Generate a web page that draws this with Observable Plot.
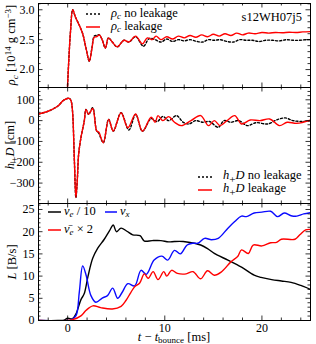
<!DOCTYPE html>
<html><head><meta charset="utf-8">
<script src="https://cdn.jsdelivr.net/npm/d3@7"></script>
<script src="https://cdn.jsdelivr.net/npm/@observablehq/plot@0.6"></script>
<style>
body{margin:0;background:#fff;}
#wrap{position:relative;width:316px;height:344px;font-family:"Liberation Serif",serif;color:#000;overflow:hidden;}
#wrap svg.plt{display:block;}
.lbl{position:absolute;white-space:nowrap;font-size:12.5px;line-height:1;}
.ctr{transform:translate(0,-50%);}
.rot{transform:translate(-50%,-50%) rotate(-90deg);}
.sub{font-size:72%;vertical-align:-0.3em;}
.subp{font-size:90%;vertical-align:-0.3em;}
.sup{font-size:72%;vertical-align:0.45em;}
.sw{position:absolute;overflow:visible;}
</style>
</head><body><div id="wrap"></div>
<script>
// ---- data: central density (10^14 g/cm^3)
const tRhoLeak = [-0.1,0.1,0.3,0.52,0.8,1.2,1.55,1.9,2.23,2.5,2.74,3.0,3.26,3.55,3.88,4.2,4.6,5.1,5.8,6.3,7.0,7.7,8.2,8.7,9.1,9.6,10.2,10.8,11.4,12.0,12.6,13.2,13.8,14.4,15.0,15.6,16.2,16.8,17.4,18.0,18.6,19.3,20.0,20.7,21.4,22.1,22.8,23.5,24.2,25.0];
const rhoLeak  = [1.4,2.1,2.65,3.0,2.88,2.74,2.6,2.35,2.14,2.35,2.54,2.55,2.58,2.5,2.36,2.53,2.46,2.38,2.49,2.46,2.56,2.43,2.53,2.5,2.56,2.5,2.55,2.51,2.56,2.53,2.57,2.54,2.58,2.55,2.59,2.56,2.6,2.57,2.61,2.58,2.61,2.6,2.62,2.61,2.62,2.615,2.625,2.62,2.63,2.635];
const tRhoNo = [-0.1,0.1,0.3,0.52,0.8,1.2,1.55,1.9,2.23,2.5,2.74,3.0,3.26,3.55,3.88,4.2,4.6,5.1,5.8,6.3,7.0,7.8,8.4,9.0,9.6,10.2,10.8,11.4,12.0,12.6,13.3,13.9,14.5,15.1,15.7,16.4,17.1,17.7,18.4,19.0,19.7,20.4,21.1,21.8,22.5,23.2,23.9,24.5,25.0];
const rhoNo  = [1.4,2.1,2.65,3.0,2.88,2.74,2.6,2.35,2.14,2.36,2.56,2.57,2.58,2.5,2.36,2.53,2.46,2.38,2.49,2.46,2.55,2.39,2.52,2.5,2.46,2.51,2.47,2.5,2.48,2.5,2.47,2.46,2.5,2.49,2.5,2.47,2.46,2.5,2.49,2.49,2.47,2.49,2.49,2.48,2.5,2.49,2.49,2.5,2.5];

// ---- data: h+D (cm)
const tHLeak = [-3,-2,-1,-0.4,0.17,0.35,0.5,0.7,0.85,1.0,1.13,1.37,1.71,1.89,2.16,2.58,2.99,3.2,3.67,4.22,4.7,5.5,6.2,7.0,7.7,8.6,9.0,9.3,9.8,10.4,11.0,11.7,12.7,13.7,14.5,15.1,15.7,16.4,17.2,17.9,18.8,19.8,20.8,21.8,22.6,23.6,25.0];
const hLeak  = [32,45,70,98,107,95,46,-200,-370,-280,-162,-82,-2,54,30,58,-50,-55,-106,6,-50,38,-34,32,-51,16,-8,24,0,19,-8,-24,0,24,-24,0,-24,0,24,-16,3,0,8,-24,-8,-13,3];
const tHNo = [-3,-2,-1,-0.4,0.17,0.35,0.5,0.7,0.85,1.0,1.13,1.37,1.71,1.89,2.16,2.58,2.99,3.2,3.67,4.22,4.7,5.5,6.3,7.0,7.7,8.6,9.2,9.8,10.4,11.2,11.9,12.5,13.2,13.9,14.6,15.5,16.1,16.8,17.6,18.5,19.4,20.6,21.6,22.4,23.2,24.2,25.0];
const hNo  = [32,45,70,98,107,95,46,-200,-370,-280,-162,-82,-2,54,30,62,-50,-60,-106,6,-50,38,-45,30,-51,10,-5,20,0,24,-8,-16,0,-8,-4,-32,0,-8,0,-24,-10,-16,5,13,0,-4,0];

// ---- data: luminosities (B/s)
const tNuE = [-3,-1,-0.35,0,0.5,0.86,1.37,1.7,2.1,2.58,3.1,3.77,4.3,4.7,5.02,5.5,6.1,6.7,7.45,7.9,8.7,9.6,10.4,11.0,11.9,13.05,13.7,14.4,15.1,16.5,17.9,19.2,19.9,21.0,22.0,23.0,24.0,25.0];
const lNuE = [0,0,0.1,0.5,0.4,1.5,4.7,6.0,10.0,14.0,16.3,18.3,20.2,21.5,20.0,20.8,20.1,19.3,19.1,17.9,18.0,18.0,17.7,17.8,17.8,17.4,17.0,16.2,15.1,13.6,12.0,10.2,9.7,9.2,8.9,8.6,7.9,7.0];
const tNuX = [-3,0,0.3,0.86,1.2,1.55,1.9,2.4,2.9,3.6,4.1,4.64,5.15,5.6,6.2,6.9,7.55,8.1,8.9,9.7,10.3,11.0,11.6,12.3,12.9,13.4,14.1,14.8,15.5,16.5,17.2,17.9,18.4,19.2,20.0,20.9,21.6,22.3,23.0,23.6,24.3,25.0];
const lNuX = [0,0,0.1,1.1,6.4,12.3,10.2,5.6,4.1,5.1,5.6,7.3,5.0,6.3,8.3,7.8,11.3,10.4,13.6,14.5,13.6,15.8,15.0,17.0,17.4,17.4,18.5,18.2,18.5,20.8,22.3,23.5,23.4,24.2,24.4,24.6,23.4,24.2,23.6,23.5,24.0,24.3];
const tNuA = [-3,0.5,1.4,1.9,2.6,3.4,4.6,5.5,6.0,6.5,6.9,7.4,7.9,8.3,8.8,9.3,9.9,10.2,10.7,11.3,12.2,12.9,13.7,14.4,15.1,15.8,16.8,17.5,17.9,18.6,19.1,20.0,20.9,21.5,22.0,23.4,23.9,24.5,25.0];
const lNuA = [0,0.2,1.1,2.3,3.3,2.9,2.6,3.2,4.5,6.3,7.6,8.4,10.5,9.5,11.0,9.2,11.0,10.0,11.3,10.6,10.5,11.0,9.4,11.2,10.2,10.9,13.2,14.4,15.9,15.1,17.0,16.8,17.5,17.6,18.3,18.3,19.3,20.4,20.5];

// ---- axes
const xDomain = [-3, 25];
const xMajor = [0, 10, 20];
const xMinor = [-2, 2, 4, 6, 8, 12, 14, 16, 18, 22, 24];
const rhoDomain = [1.7, 3.105];
const rhoMajor = [2.0, 2.5, 3.0];
const rhoMinor = [1.8, 1.9, 2.1, 2.2, 2.3, 2.4, 2.6, 2.7, 2.8, 2.9, 3.1];
const hDomain = [-398, 159];
const hMajor = [-300, -200, -100, 0, 100];
const hMinor = d3.range(-380, 160, 20).filter(v => v % 100 !== 0);
const lDomain = [0, 26.35];
const lMajor = [0, 5, 10, 15, 20, 25];
const lMinor = d3.range(1, 27, 1).filter(v => v % 5 !== 0);

const zipTV = (t, v) => t.map((d, i) => ({t: d, v: v[i]}));

const W = 316, ML = 38, MR = 6, IW = W - ML - MR;
const FONT = '"Liberation Serif", serif';

function panel(o) {
  const IH = o.height - o.marginTop - o.marginBottom;
  const marks = [];
  for (const s of o.series) {
    marks.push(Plot.line(s.data, {x: "t", y: "v", stroke: s.color, strokeWidth: s.w || 1.4,
      strokeDasharray: s.dash, curve: "catmull-rom", clip: true}));
  }
  const tx = (vals, len) => [
    Plot.tickX(vals, {x: d => d, insetTop: IH - len, stroke: "black", strokeWidth: 0.8}),
    Plot.tickX(vals, {x: d => d, insetBottom: IH - len, stroke: "black", strokeWidth: 0.8})
  ];
  const ty = (vals, len) => [
    Plot.tickY(vals, {y: d => d, insetRight: IW - len, stroke: "black", strokeWidth: 0.8}),
    Plot.tickY(vals, {y: d => d, insetLeft: IW - len, stroke: "black", strokeWidth: 0.8})
  ];
  marks.push(...tx(xMajor, 4.5), ...tx(xMinor, 2.5), ...ty(o.yMajor, 4.5), ...ty(o.yMinor, 2.5));
  marks.push(Plot.frame({stroke: "black", strokeWidth: 1}));
  marks.push(Plot.axisY({ticks: o.yMajor, tickSize: 0, tickPadding: 4, label: null, tickFormat: o.yFmt, fontSize: 12}));
  if (o.xLabels) marks.push(Plot.axisX({ticks: xMajor, tickSize: 0, tickPadding: 3, label: null, fontSize: 12}));
  const svg = Plot.plot({
    width: W, height: o.height, marginLeft: ML, marginRight: MR,
    marginTop: o.marginTop, marginBottom: o.marginBottom,
    x: {domain: xDomain, axis: o.xLabels ? undefined : null},
    y: {domain: o.yDomain},
    style: {fontFamily: FONT, fontSize: "12px", color: "black", background: "transparent", overflow: "visible"},
    marks
  });
  svg.classList.add("plt");
  return svg;
}

const wrap = document.getElementById("wrap");
wrap.append(panel({height: 87, marginTop: 3, marginBottom: 0, yDomain: rhoDomain, yMajor: rhoMajor, yMinor: rhoMinor, yFmt: d3.format(".1f"),
  series: [
    {data: zipTV(tRhoNo, rhoNo), color: "black", dash: "2,2", w: 1.4},
    {data: zipTV(tRhoLeak, rhoLeak), color: "#ff0000", w: 1.4}
  ]}));
wrap.append(panel({height: 116, marginTop: 0, marginBottom: 0, yDomain: hDomain, yMajor: hMajor, yMinor: hMinor,
  series: [
    {data: zipTV(tHNo, hNo), color: "black", dash: "2,2", w: 1.4},
    {data: zipTV(tHLeak, hLeak), color: "#ff0000", w: 1.4}
  ]}));
wrap.append(panel({height: 141, marginTop: 0, marginBottom: 24, yDomain: lDomain, yMajor: lMajor, yMinor: lMinor, xLabels: true,
  series: [
    {data: zipTV(tNuE, lNuE), color: "black", w: 1.4},
    {data: zipTV(tNuX, lNuX), color: "#0a0aff", w: 1.4},
    {data: zipTV(tNuA, lNuA), color: "#ff0000", w: 1.4}
  ]}));

// ---- overlay text / legends
function label(html, x, y, cls) {
  const d = document.createElement("div");
  d.className = "lbl " + (cls || "ctr");
  d.style.left = x + "px"; d.style.top = y + "px";
  d.innerHTML = html;
  wrap.append(d);
  return d;
}
function swatch(x1, x2, y, color, dash) {
  const ns = "http://www.w3.org/2000/svg";
  const s = document.createElementNS(ns, "svg");
  s.setAttribute("class", "sw");
  s.setAttribute("width", x2 - x1); s.setAttribute("height", 4);
  s.style.left = x1 + "px"; s.style.top = (y - 2) + "px";
  const l = document.createElementNS(ns, "line");
  l.setAttribute("x1", 0); l.setAttribute("x2", x2 - x1); l.setAttribute("y1", 2); l.setAttribute("y2", 2);
  l.setAttribute("stroke", color); l.setAttribute("stroke-width", 1.5);
  if (dash) l.setAttribute("stroke-dasharray", dash);
  s.append(l);
  wrap.append(s);
}
const rho = '<i>ρ</i><span class="sub"><i>c</i></span>';
const hD = '<i>h</i><span class="subp">+</span><i>D</i>';
// top legend
swatch(86, 100, 14, "black", "2,2"); label(rho + " no leakage", 111, 14);
swatch(86, 100, 26.5, "#ff0000"); label(rho + " leakage", 111, 26.5);
const nm = label("s12WH07j5", 0, 17); nm.style.left = "auto"; nm.style.right = (316 - 302) + "px";
// middle legend
swatch(198, 212, 176.5, "black", "2,2"); label(hD + " no leakage", 223, 176.5);
swatch(198, 212, 190, "#ff0000"); label(hD + " leakage", 223, 190);
// bottom legend
swatch(48, 61, 211.5, "black"); label('<i>ν<span class="sub">e</span></i> / 10', 64, 211.5);
swatch(105, 117, 211.5, "#0a0aff"); label('<i>ν<span class="sub">x</span></i>', 120, 211.5);
swatch(48, 61, 229.5, "#ff0000"); label('<i>ν̄<span class="sub">e</span></i> × 2', 64, 229.5);
// axis labels
label(rho + ' [10<span class="sup">14</span> g cm<span class="sup">−3</span>]', 12, 45, "rot");
label(hD + ' [cm]', 12, 145, "rot");
label('<i>L</i> [B/s]', 12, 262, "rot");
const xl = label('<i>t</i> − <i>t</i><span class="sub">bounce</span> [ms]', 174, 337.5);
xl.style.transform = "translate(-50%,-50%)";
</script>
</body></html>
